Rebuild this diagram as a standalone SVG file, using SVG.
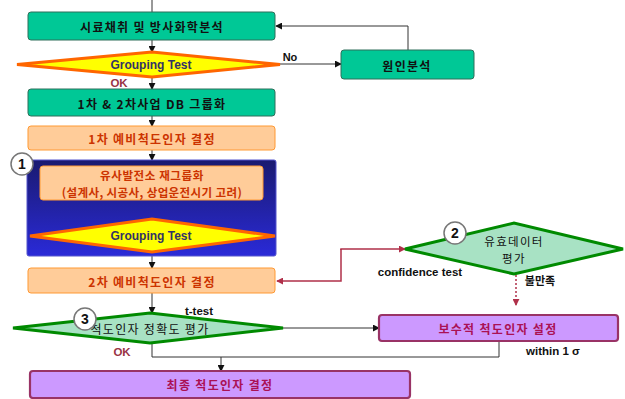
<svg xmlns="http://www.w3.org/2000/svg" width="625" height="399" viewBox="0 0 625 399">
<defs>
<style>
text{font-family:"Noto Sans CJK KR","Liberation Sans",sans-serif;font-weight:bold;text-anchor:middle;dominant-baseline:central}
.teal{fill:#00c896;stroke:#2f6f5a;stroke-width:1}
.orange{fill:#ffcc99;stroke:#ff9933;stroke-width:1}
.purple{fill:#cc99ff;stroke:#993366;stroke-width:2.2}
.gt{fill:#ffff00;stroke:#ff6600;stroke-width:3}
.gd{fill:#a8e2c4;stroke:#008a00;stroke-width:3}
.circ{fill:#fff;stroke:#777;stroke-width:1.5}
.ln{fill:none;stroke:#333;stroke-width:1}
.red{fill:none;stroke:#b0304a;stroke-width:1.5}
.t-blk{fill:#111;font-size:12px;letter-spacing:1.3px}
.t-org{fill:#cc3300;font-size:12px;letter-spacing:1.3px}
.t-pur{fill:#aa1155;font-size:12px;letter-spacing:1.3px}
.t-gt{fill:#333366;font-size:12px;font-family:"Liberation Sans",Arial,sans-serif}
.lbl{font-family:"Liberation Sans",Arial,sans-serif;font-size:11.5px;fill:#111}
.num{font-family:"Liberation Sans",Arial,sans-serif;font-size:14px;fill:#111}
</style>
<linearGradient id="blue" x1="0" y1="0" x2="0" y2="1">
<stop offset="0" stop-color="#1a1a70"/>
<stop offset="1" stop-color="#2a2ad8"/>
</linearGradient>
<marker id="ah" viewBox="0 0 8 8" refX="7" refY="4" markerWidth="7" markerHeight="7" markerUnits="userSpaceOnUse" orient="auto">
<path d="M0,0 L8,4 L0,8 z" fill="#111"/>
</marker>
<marker id="ahr" viewBox="0 0 8 8" refX="7" refY="4" markerWidth="7" markerHeight="7" markerUnits="userSpaceOnUse" orient="auto">
<path d="M0,0 L8,4 L0,8 z" fill="#b0304a"/>
</marker>
<marker id="ahw" viewBox="0 0 8 8" refX="7" refY="4" markerWidth="5" markerHeight="5" markerUnits="userSpaceOnUse" orient="auto-start-reverse">
<path d="M0,0 L8,4 L0,8 z" fill="#fff"/>
</marker>
</defs>

<g id="connectors">
<line class="ln" x1="152" y1="0" x2="152" y2="12"/>
<line class="ln" x1="152" y1="40" x2="152" y2="52" marker-end="url(#ah)"/>
<line class="ln" x1="152" y1="77" x2="152" y2="89" marker-end="url(#ah)"/>
<line class="ln" x1="152" y1="116" x2="152" y2="126" marker-end="url(#ah)"/>
<line class="ln" x1="152" y1="150" x2="152" y2="160" marker-end="url(#ah)"/>
<line class="ln" x1="152" y1="256" x2="152" y2="268" marker-end="url(#ah)"/>
<line class="ln" x1="152" y1="293" x2="152" y2="313" marker-end="url(#ah)"/>
<line class="ln" x1="280" y1="64" x2="341" y2="64" marker-end="url(#ah)"/>
<polyline class="ln" points="408,50 408,26 276,26" marker-end="url(#ah)"/>
<line x1="152" y1="204" x2="152" y2="214" stroke="#fff" stroke-width="1.5" marker-start="url(#ahw)" marker-end="url(#ahw)"/>
<polyline class="red" points="341,249 341,281 277,281" marker-end="url(#ahr)"/>
<polyline class="red" points="341,250 341,249 405,249" marker-end="url(#ahr)"/>
<line x1="516" y1="275" x2="516" y2="305" stroke="#b0304a" stroke-width="1.5" stroke-dasharray="2,2" marker-end="url(#ahr)"/>
<line class="ln" x1="283" y1="328" x2="379" y2="328" marker-end="url(#ah)"/>
<polyline class="ln" points="152,343 152,357 499,357 499,341"/>
<line class="ln" x1="221" y1="357" x2="221" y2="371" marker-end="url(#ah)"/>
</g>

<g id="node-sample">
<rect class="teal" x="28" y="12" width="247" height="28" rx="3"/>
<text class="t-blk" x="152" y="26">시료채취 및 방사화학분석</text>
</g>

<g id="node-cause">
<rect class="teal" x="341" y="50" width="133" height="29" rx="3"/>
<text class="t-blk" x="407" y="65">원인분석</text>
</g>

<g id="node-gt1">
<polygon class="gt" points="17,64.5 152,52 280,64.5 152,77"/>
<text class="t-gt" x="151" y="65">Grouping Test</text>
</g>

<g id="node-db">
<rect class="teal" x="28" y="89" width="247" height="27" rx="3"/>
<text class="t-blk" x="152" y="103">1차 &amp; 2차사업 DB 그룹화</text>
</g>

<g id="node-pre1">
<rect class="orange" x="28" y="126" width="247" height="24" rx="3"/>
<text class="t-org" x="152" y="138">1차 예비척도인자 결정</text>
</g>

<g id="node-panel">
<rect x="27" y="160" width="249" height="96" rx="2" fill="url(#blue)" stroke="#55c" stroke-width="1"/>
</g>

<g id="node-regroup">
<rect class="orange" x="40" y="166" width="223" height="34" rx="3"/>
<text class="t-org" x="152" y="175" style="font-size:11.5px;letter-spacing:0.6px">유사발전소 재그룹화</text>
<text class="t-org" x="152" y="192" style="font-size:11.5px;letter-spacing:0.4px">(설계사, 시공사, 상업운전시기 고려)</text>
</g>

<g id="node-gt2">
<polygon class="gt" points="30,236 152,219 275,236 152,252"/>
<text class="t-gt" x="151" y="236">Grouping Test</text>
</g>

<g id="node-c1">
<circle class="circ" cx="22" cy="164" r="11"/>
<text class="num" x="22" y="164">1</text>
</g>

<g id="node-pre2">
<rect class="orange" x="28" y="268" width="247" height="25" rx="3"/>
<text class="t-org" x="152" y="281">2차 예비척도인자 결정</text>
</g>

<g id="node-valid">
<polygon class="gd" points="405,249 514,223 623,249 514,274"/>
<text class="t-blk" x="514" y="241" style="font-weight:normal;font-size:11.5px">유효데이터</text>
<text class="t-blk" x="514" y="258" style="font-weight:normal;font-size:11.5px">평가</text>
</g>

<g id="node-c2">
<circle class="circ" cx="455" cy="233" r="11"/>
<text class="num" x="455" y="233">2</text>
</g>

<g id="node-acc">
<polygon class="gd" points="13,328 150,313 283,328 150,343"/>
<text class="t-blk" x="150" y="328" style="font-weight:normal">척도인자 정확도 평가</text>
</g>

<g id="node-c3">
<circle class="circ" cx="85" cy="319" r="11"/>
<text class="num" x="85" y="319">3</text>
</g>

<g id="node-conserv">
<rect class="purple" x="379" y="315" width="239" height="26" rx="3"/>
<text class="t-pur" x="498" y="328">보수적 척도인자 설정</text>
</g>

<g id="node-final">
<rect class="purple" x="30" y="371" width="380" height="27" rx="3"/>
<text class="t-pur" x="220" y="384">최종 척도인자 결정</text>
</g>

<g id="labels">
<text class="lbl" x="290" y="57" style="font-size:11px">No</text>
<text class="lbl" x="119" y="83" style="fill:#993344">OK</text>
<text class="lbl" x="420" y="272">confidence test</text>
<text class="t-blk" x="540" y="280" style="font-size:11px;letter-spacing:0">불만족</text>
<text class="lbl" x="199" y="311">t-test</text>
<text class="lbl" x="122" y="352" style="fill:#993344">OK</text>
<text class="lbl" x="553" y="351">within 1 σ</text>
</g>
</svg>
